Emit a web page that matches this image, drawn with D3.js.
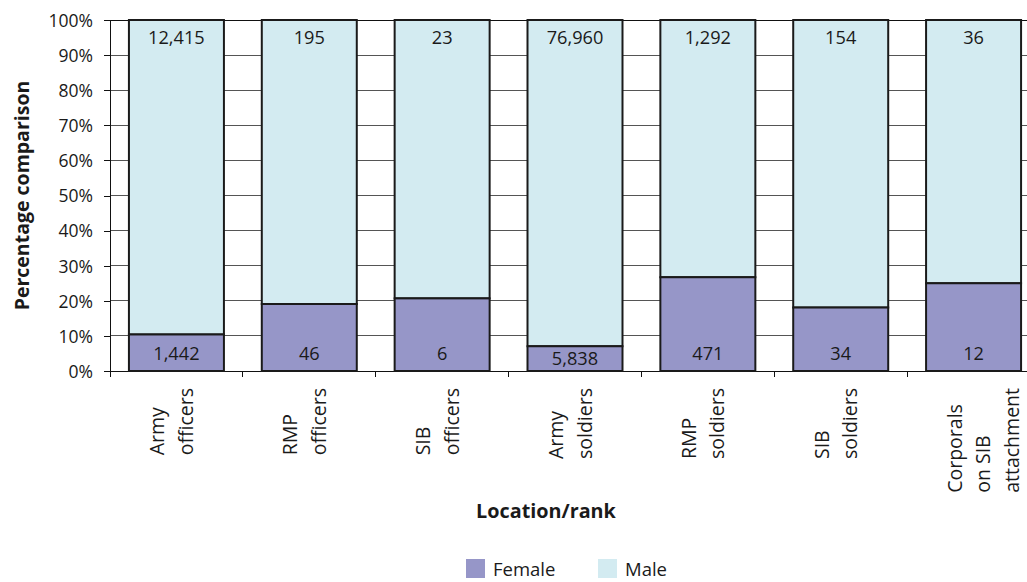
<!DOCTYPE html>
<html><head><meta charset="utf-8">
<script src="https://cdn.jsdelivr.net/npm/d3@7/dist/d3.min.js"></script>
<style>
html,body{margin:0;padding:0;background:#fff;overflow:hidden}
text{font-family:"Open Sans",sans-serif;fill:#1a1a1a}
</style></head><body>
<svg id="chart" width="1027" height="582"></svg>
<script>
const categories = [["Army","officers"],["RMP","officers"],["SIB","officers"],["Army","soldiers"],["RMP","soldiers"],["SIB","soldiers"],["Corporals","on SIB","attachment"]];
const female = [1442, 46, 6, 5838, 471, 34, 12];
const male = [12415, 195, 23, 76960, 1292, 154, 36];
const yTicks = [0,0.1,0.2,0.3,0.4,0.5,0.6,0.7,0.8,0.9,1];
const seriesNames = ["Female","Male"];
const colors = {Female:"#9696c8", Male:"#d3ebf1"};

const svg = d3.select("#chart");
const m = {left:110, top:20, right:1040, bottom:371};
const keys = categories.map(c=>c.join(" "));
const x = d3.scaleBand().domain(keys).range([m.left, m.right]).paddingInner(0.285).paddingOuter(0.1425);
const y = d3.scaleLinear().domain([0,1]).range([m.bottom, m.top]);
const fmt = d3.format(",");

// gridlines
svg.append("g").selectAll("line").data(yTicks.slice(1)).join("line")
  .attr("x1", m.left).attr("x2", 1027).attr("y1", d=>y(d)).attr("y2", d=>y(d))
  .attr("stroke", d=>d===1?"#111":"#555").attr("stroke-width",1).attr("shape-rendering","crispEdges");

// y axis
const ya = svg.append("g").attr("transform",`translate(${m.left},0)`)
  .call(d3.axisLeft(y).tickValues(yTicks).tickFormat(d3.format(".0%")).tickSize(6).tickPadding(11));
ya.select(".domain").remove();
ya.selectAll(".tick line").attr("stroke","#111").attr("shape-rendering","crispEdges");
ya.selectAll("text").style("font-size","17.5px").attr("fill","#1a1a1a").attr("dy","0.36em");
svg.append("line").attr("x1",m.left).attr("x2",m.left).attr("y1",m.top).attr("y2",m.bottom+6)
  .attr("stroke","#111").attr("shape-rendering","crispEdges");

// x axis
const bounds = keys.map(k=>x(k)-x.step()*x.paddingInner()/2);
svg.append("line").attr("x1",m.left).attr("x2",1027).attr("y1",m.bottom).attr("y2",m.bottom)
  .attr("stroke","#111").attr("shape-rendering","crispEdges");
svg.append("g").selectAll("line").data(bounds.slice(1)).join("line")
  .attr("x1",d=>d).attr("x2",d=>d).attr("y1",m.bottom).attr("y2",m.bottom+6)
  .attr("stroke","#111").attr("shape-rendering","crispEdges");

// bars
const data = keys.map((k,i)=>{const t=female[i]+male[i];return {k, f:female[i], mv:male[i], fp:female[i]/t};});
const g = svg.append("g");
g.selectAll("rect.m").data(data).join("rect").attr("class","m")
  .attr("x",d=>x(d.k)).attr("width",x.bandwidth())
  .attr("y",d=>y(1)).attr("height",d=>y(d.fp)-y(1))
  .attr("fill",colors.Male).attr("stroke","#1a1a1a").attr("stroke-width",2);
g.selectAll("rect.f").data(data).join("rect").attr("class","f")
  .attr("x",d=>x(d.k)).attr("width",x.bandwidth())
  .attr("y",d=>y(d.fp)).attr("height",d=>y(0)-y(d.fp))
  .attr("fill",colors.Female).attr("stroke","#1a1a1a").attr("stroke-width",2);

// value labels
g.selectAll("text.mv").data(data).join("text").attr("class","mv")
  .attr("x",d=>x(d.k)+x.bandwidth()/2).attr("y",y(1)+24)
  .attr("text-anchor","middle").style("font-size","18.2px").text(d=>fmt(d.mv));
g.selectAll("text.fv").data(data).join("text").attr("class","fv")
  .attr("x",d=>x(d.k)+x.bandwidth()/2)
  .attr("y",d=>Math.max((y(0)+y(d.fp))/2, y(0)-18)+6.5)
  .attr("text-anchor","middle").style("font-size","18.2px").text(d=>fmt(d.f));

// category labels
const lineGap = 28.5;
categories.forEach((lines,i)=>{
  const cx = x(keys[i])+x.bandwidth()/2;
  const grp = svg.append("g");
  const ts = lines.map((ln,j)=>{
    const bx = cx - 12 + j*lineGap;
    return grp.append("text").attr("text-anchor","start").style("font-size","19.5px").text(ln).datum(bx);
  });
  const maxLen = d3.max(ts, t=>t.node().getComputedTextLength());
  const sy = 388 + maxLen;
  ts.forEach(t=>{const bx=t.datum(); t.attr("transform",`translate(${bx},${sy}) rotate(-90)`);});
});

// axis titles
svg.append("text").attr("transform",`translate(29,${(m.top+m.bottom)/2}) rotate(-90)`)
  .attr("text-anchor","middle").style("font-size","19.5px").style("font-weight","bold").text("Percentage comparison");
svg.append("text").attr("x",546).attr("y",518).attr("text-anchor","middle")
  .style("font-size","19.8px").style("font-weight","bold").text("Location/rank");

// legend
const leg = svg.append("g");
const legX = [466, 598];
seriesNames.forEach((s,i)=>{
  leg.append("rect").attr("x",legX[i]).attr("y",559).attr("width",19).attr("height",19).attr("fill",colors[s]);
  leg.append("text").attr("x",legX[i]+27).attr("y",575.5).style("font-size","18.5px").text(s);
});
</script></body></html>
